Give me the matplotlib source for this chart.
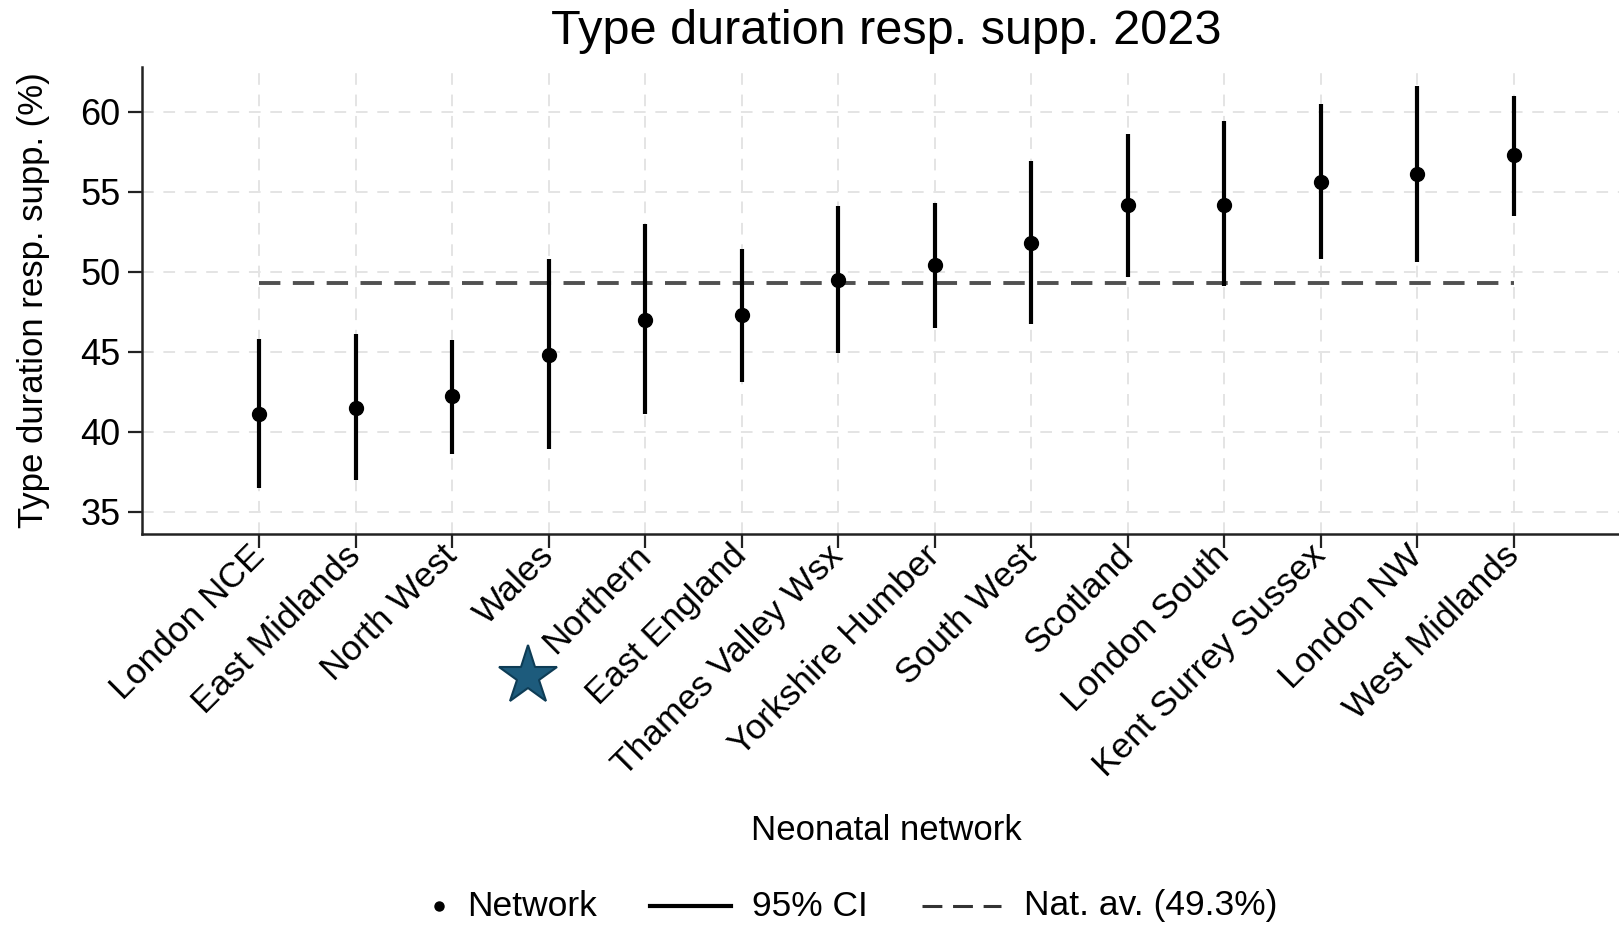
import matplotlib
matplotlib.use('Agg')
import matplotlib.pyplot as plt
from matplotlib.lines import Line2D

# ---- data ----
networks = ["London NCE", "East Midlands", "North West", "Wales", "Northern",
            "East England", "Thames Valley Wsx", "Yorkshire Humber", "South West",
            "Scotland", "London South", "Kent Surrey Sussex", "London NW", "West Midlands"]
means = [41.1, 41.5, 42.2, 44.8, 47.0, 47.3, 49.5, 50.4, 51.8, 54.2, 54.2, 55.6, 56.1, 57.3]
ci_low = [36.5, 37.0, 38.6, 38.9, 41.1, 43.1, 44.9, 46.5, 46.7, 49.7, 49.1, 50.8, 50.6, 53.5]
ci_high = [45.8, 46.1, 45.7, 50.8, 53.0, 51.4, 54.1, 54.3, 56.9, 58.6, 59.4, 60.5, 61.6, 61.0]
nat_avg = 49.3
y_ticks = [35, 40, 45, 50, 55, 60]

plt.rcParams['font.family'] = ['Liberation Sans', 'DejaVu Sans']

W, H = 1619, 925
fig = plt.figure(figsize=(W / 100, H / 100), dpi=100)
left, bottom, top = 141.5 / W, 1 - 534 / H, 1 - 67 / H
ax = fig.add_axes([left, bottom, 1 - left, top - bottom])

x = list(range(len(networks)))

# grid
for t in y_ticks:
    ax.axhline(t, color='#e4e4e4', lw=1.4, ls=(0, (6, 5)), zorder=0)
for xi in x:
    ax.axvline(xi, color='#e4e4e4', lw=1.4, ls=(0, (6, 5)), zorder=0)

ax.vlines(x, ci_low, ci_high, color='black', lw=3.0, zorder=3)
ax.plot(x, means, 'o', color='black', ms=10, zorder=4)
ax.plot([x[0], x[-1]], [nat_avg, nat_avg], color='#505050', lw=2.8,
        ls=(0, (5.5, 3.2)), zorder=2)

ax.set_xlim(-1.22, 14.09)
ax.set_ylim(33.6, 62.8)
ax.set_yticks(y_ticks)
ax.set_yticklabels([str(t) for t in y_ticks], fontsize=26)
ax.set_xticks(x)
ax.set_xticklabels(networks, fontsize=25.5, rotation=45, ha='right', va='center',
                   rotation_mode='anchor')

for s in ['top', 'right']:
    ax.spines[s].set_visible(False)
for s in ['left', 'bottom']:
    ax.spines[s].set_linewidth(1.8)
    ax.spines[s].set_color('#222222')
ax.tick_params(axis='both', length=10, width=1.6, color='#222222', direction='out')
ax.tick_params(axis='y', pad=5)
ax.tick_params(axis='x', pad=2)

ax.set_ylabel("Type duration resp. supp. (%)", fontsize=25, labelpad=22)

fig.text(886 / W, 1 - 31 / H, "Type duration resp. supp. 2023", fontsize=35,
         ha='center', va='center')
fig.text(886 / W, 1 - 831 / H, "Neonatal network", fontsize=25, ha='center', va='center')

# legend (manual)
ly = 1 - 906 / H
fig.add_artist(Line2D([439 / W], [ly], marker='o', color='black', ms=6.5, ls='none',
                      transform=fig.transFigure))
fig.text(467 / W, ly, "Network", fontsize=25.5, ha='left', va='center')
fig.add_artist(Line2D([650 / W, 731 / W], [ly, ly], color='black', lw=3,
                      transform=fig.transFigure))
fig.text(752 / W, ly, "95% CI", fontsize=25.5, ha='left', va='center')
fig.add_artist(Line2D([922 / W, 1001 / W], [ly, ly], color='#333333', lw=2.2,
                      ls=(0, (6.5, 3.5)), transform=fig.transFigure))
fig.text(1024 / W, ly, "Nat. av. (49.3%)", fontsize=25.5, ha='left', va='center')

# decorative star
fig.add_artist(Line2D([527.6 / W], [1 - 676 / H], marker='*', ms=44, color='#1d5b7c',
                      markeredgecolor='#0e3c55', markeredgewidth=1.5, ls='none',
                      transform=fig.transFigure))

fig.savefig('out.png', dpi=100)
